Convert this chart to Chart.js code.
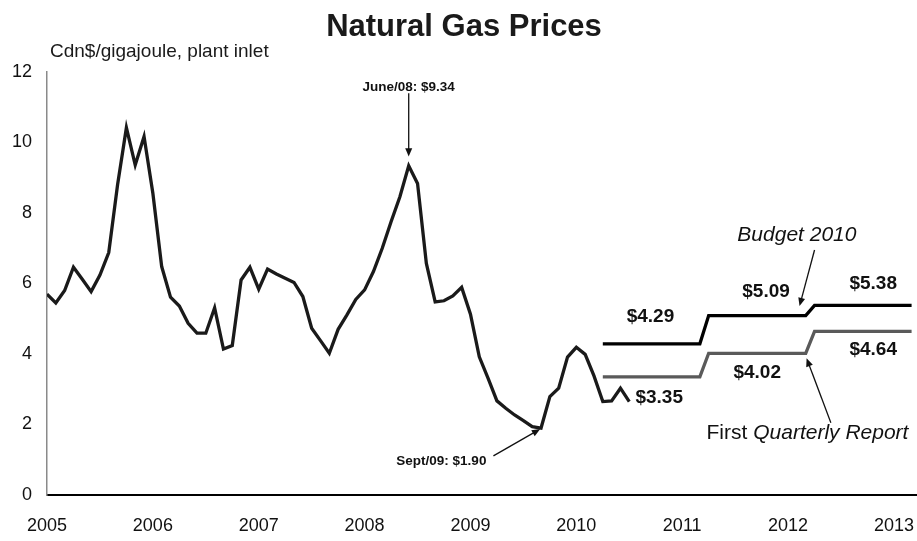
<!DOCTYPE html>
<html>
<head>
<meta charset="utf-8">
<title>Natural Gas Prices</title>
<script src="https://cdn.jsdelivr.net/npm/chart.js@4.4.1/dist/chart.umd.min.js"></script>
<style>
  html, body { margin: 0; padding: 0; background: #fff; }
  #wrap { width: 917px; height: 541px; }
</style>
</head>
<body>
<div id="wrap"><canvas id="chart" width="917" height="541"></canvas></div>
<script>
// Monthly plant inlet price (Cdn$/GJ), Jan 2005 to Jul 2010
const prices = [
  5.70, 5.45, 5.80, 6.46, 6.12, 5.77, 6.24, 6.88, 8.80, 10.42, 9.36, 10.17,
  8.56, 6.48, 5.61, 5.36, 4.87, 4.59, 4.59, 5.31, 4.14, 4.24, 6.10, 6.46,
  5.84, 6.41, 6.27, 6.15, 6.03, 5.63, 4.73, 4.38, 4.02, 4.70, 5.11, 5.55,
  5.82, 6.34, 7.00, 7.75, 8.46, 9.34, 8.84, 6.57, 5.48, 5.51, 5.65, 5.89,
  5.13, 3.92, 3.31, 2.67, 2.46, 2.27, 2.11, 1.94, 1.90, 2.79, 3.03, 3.91,
  4.19, 3.99, 3.38, 2.65, 2.67, 3.03, 2.65
];
const years = ["2005", "2006", "2007", "2008", "2009", "2010", "2011", "2012", "2013"];
const yTicks = [0, 2, 4, 6, 8, 10, 12];

// fiscal years start in April
const fiscalYears = [2010, 2011, 2012];
const budget2010 = [4.29, 5.09, 5.38];
const firstQuarterly = [3.35, 4.02, 4.64];

const FONT = "'Liberation Sans', Arial, Helvetica, sans-serif";

function monthOf(year, month) {
  return (year - 2005) * 12 + month;
}

function stepPoints(values) {
  const pts = [];
  values.forEach((v, i) => {
    const start = monthOf(fiscalYears[i], 3);
    pts.push({ x: start, y: v }, { x: start + 11, y: v });
  });
  return pts;
}

// text labels placed in data units (month index, price)
const notes = [
  { text: "June/08: $9.34", m: 41, v: 11.57, font: "bold 13.5px " + FONT, align: "center" },
  { text: "Sept/09: $1.90", m: 44.7, v: 0.96, font: "bold 13.5px " + FONT, align: "center" },
  { text: "$3.35", m: 66.7, v: 2.75, font: "bold 19px " + FONT, align: "left" },
  { text: "$4.29", m: 68.4, v: 5.05, font: "bold 19px " + FONT, align: "center" },
  { text: "$5.09", m: 81.5, v: 5.76, font: "bold 19px " + FONT, align: "center" },
  { text: "$5.38", m: 93.65, v: 5.99, font: "bold 19px " + FONT, align: "center" },
  { text: "$4.02", m: 80.5, v: 3.46, font: "bold 19px " + FONT, align: "center" },
  { text: "$4.64", m: 93.65, v: 4.11, font: "bold 19px " + FONT, align: "center" },
  { text: "Budget 2010", m: 85.0, v: 7.38, font: "italic 21px " + FONT, align: "center" }
];

const arrows = [
  { from: [41, 11.4], to: [41, 9.6] },
  { from: [50.6, 1.11], to: [55.9, 1.87] },
  { from: [87.0, 6.95], to: [85.3, 5.36] },
  { from: [88.85, 2.05], to: [86.1, 3.88] }
];

const annotationPlugin = {
  id: "annotations",
  afterDatasetsDraw(chart) {
    const ctx = chart.ctx;
    const xs = chart.scales.x;
    const ys = chart.scales.y;
    ctx.save();
    ctx.fillStyle = "#111";
    ctx.textBaseline = "middle";

    notes.forEach((n) => {
      ctx.font = n.font;
      ctx.textAlign = n.align;
      ctx.fillText(n.text, xs.getPixelForValue(n.m), ys.getPixelForValue(n.v));
    });

    // "First Quarterly Report" with the report name in italics
    const part1 = "First ";
    const part2 = "Quarterly Report";
    ctx.font = "21px " + FONT;
    const w1 = ctx.measureText(part1).width;
    ctx.font = "italic 21px " + FONT;
    const w2 = ctx.measureText(part2).width;
    const cx = xs.getPixelForValue(86.2);
    const cy = ys.getPixelForValue(1.76);
    const left = cx - (w1 + w2) / 2;
    ctx.textAlign = "left";
    ctx.font = "21px " + FONT;
    ctx.fillText(part1, left, cy);
    ctx.font = "italic 21px " + FONT;
    ctx.fillText(part2, left + w1, cy);

    // arrows
    ctx.strokeStyle = "#111";
    ctx.lineWidth = 1.3;
    arrows.forEach((a) => {
      const x1 = xs.getPixelForValue(a.from[0]);
      const y1 = ys.getPixelForValue(a.from[1]);
      const x2 = xs.getPixelForValue(a.to[0]);
      const y2 = ys.getPixelForValue(a.to[1]);
      const ang = Math.atan2(y2 - y1, x2 - x1);
      const len = 9;
      ctx.beginPath();
      ctx.moveTo(x1, y1);
      ctx.lineTo(x2 - Math.cos(ang) * len * 0.8, y2 - Math.sin(ang) * len * 0.8);
      ctx.stroke();
      ctx.beginPath();
      ctx.moveTo(x2, y2);
      ctx.lineTo(x2 - len * Math.cos(ang - 0.4), y2 - len * Math.sin(ang - 0.4));
      ctx.lineTo(x2 - len * Math.cos(ang + 0.4), y2 - len * Math.sin(ang + 0.4));
      ctx.closePath();
      ctx.fill();
    });
    ctx.restore();
  }
};

const headerPlugin = {
  id: "header",
  afterDraw(chart) {
    const ctx = chart.ctx;
    ctx.save();
    ctx.fillStyle = "#1a1a1a";
    ctx.textBaseline = "alphabetic";
    ctx.textAlign = "center";
    ctx.font = "bold 31px " + FONT;
    ctx.fillText("Natural Gas Prices", 464, 36);
    ctx.textAlign = "left";
    ctx.font = "19px " + FONT;
    ctx.fillText("Cdn$/gigajoule, plant inlet", 50, 57);
    ctx.restore();
  }
};

const ctx = document.getElementById("chart").getContext("2d");
new Chart(ctx, {
  type: "line",
  data: {
    datasets: [
      {
        label: "Actual",
        data: prices.map((p, i) => ({ x: i, y: p })),
        borderColor: "#1a1a1a",
        borderWidth: 3.3,
        pointRadius: 0,
        tension: 0,
        borderJoinStyle: "miter"
      },
      {
        label: "Budget 2010",
        data: stepPoints(budget2010),
        borderColor: "#000000",
        borderWidth: 3.3,
        pointRadius: 0,
        tension: 0
      },
      {
        label: "First Quarterly Report",
        data: stepPoints(firstQuarterly),
        borderColor: "#5a5a5a",
        borderWidth: 3.3,
        pointRadius: 0,
        tension: 0
      }
    ]
  },
  options: {
    responsive: false,
    devicePixelRatio: 1,
    animation: false,
    layout: { padding: { top: 72, right: 1, left: 0, bottom: 0 } },
    plugins: {
      legend: { display: false },
      tooltip: { enabled: false }
    },
    scales: {
      x: {
        type: "linear",
        min: 0,
        max: 98.5,
        afterBuildTicks: (scale) => {
          scale.ticks = years.map((y, i) => ({ value: i * 12 }));
        },
        afterFit: (scale) => {
          scale.height = 46;
          scale.paddingLeft = 0;
          scale.paddingRight = 0;
        },
        grid: { display: false, drawTicks: false },
        border: { display: true, color: "#000", width: 2 },
        ticks: {
          color: "#111",
          font: { family: FONT, size: 18 },
          padding: 20,
          maxRotation: 0,
          autoSkip: false,
          callback: (v) => years[Math.round(v / 12)]
        }
      },
      y: {
        min: 0,
        max: 12,
        afterBuildTicks: (scale) => {
          scale.ticks = yTicks.map((v) => ({ value: v }));
        },
        afterFit: (scale) => {
          scale.width = 47;
          scale.paddingTop = 0;
          scale.paddingBottom = 0;
        },
        grid: { display: false, drawTicks: false },
        border: { display: true, color: "#8a8a8a", width: 1.5 },
        ticks: {
          color: "#111",
          font: { family: FONT, size: 18 },
          padding: 15
        }
      }
    }
  },
  plugins: [annotationPlugin, headerPlugin]
});
</script>
</body>
</html>
